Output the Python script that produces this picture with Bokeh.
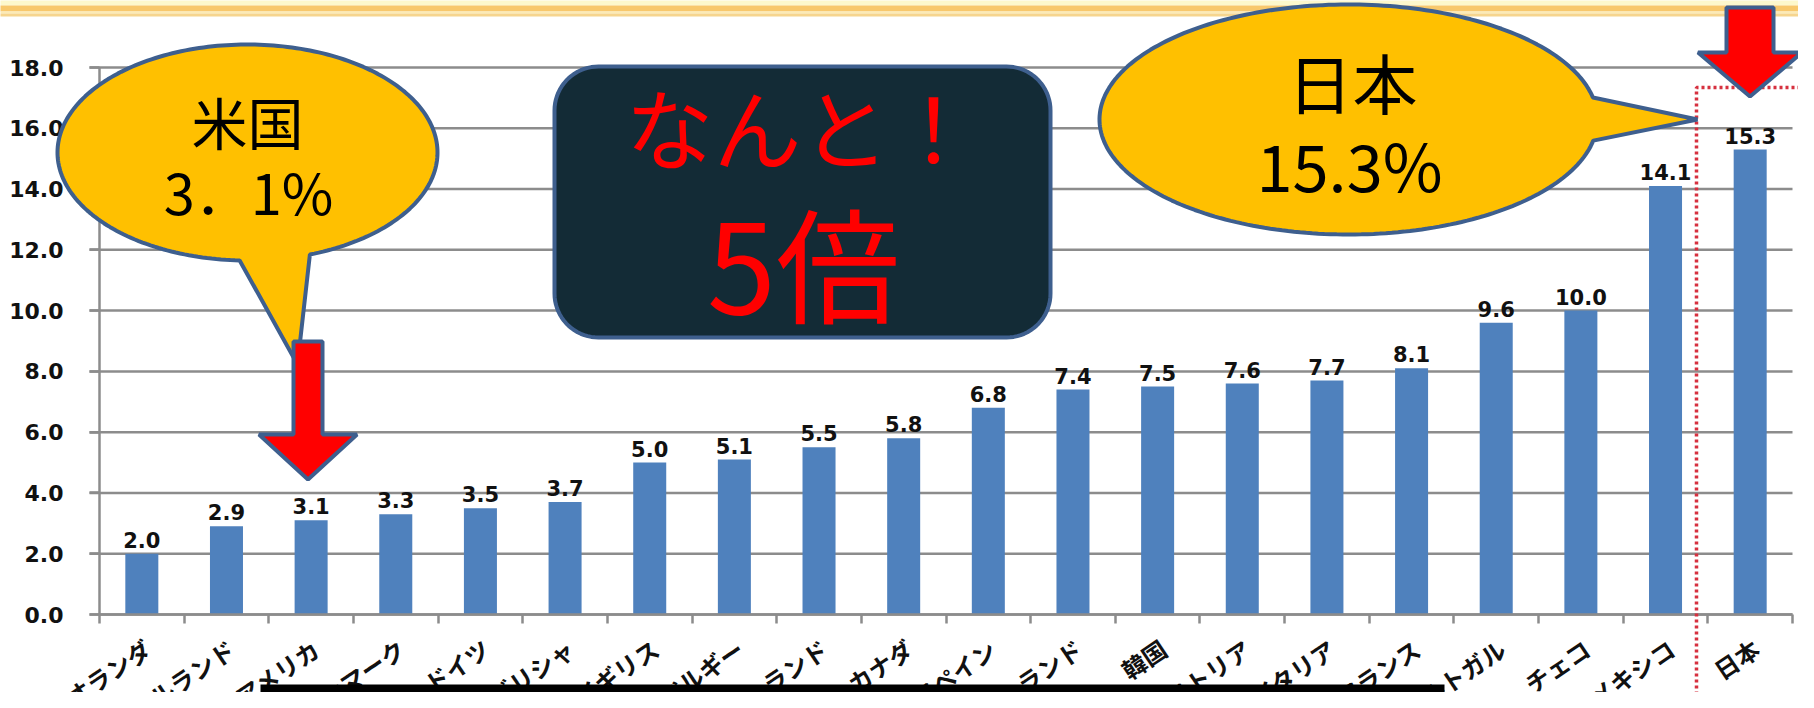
import math
import numpy as np
from bokeh.plotting import figure
from bokeh.models import (Range1d, LinearAxis, FixedTicker, PrintfTickFormatter,
                          CustomJSTickFormatter)
from bokeh.core.properties import value
from bokeh.embed import file_html
from bokeh.resources import INLINE

# ---------------- data ----------------
categories = ["オランダ", "アイルランド", "アメリカ", "デンマーク", "ドイツ", "ギリシャ",
              "イギリス", "ベルギー", "ニュージーランド", "カナダ", "スペイン", "ポーランド",
              "韓国", "オーストリア", "イタリア", "フランス", "ポルトガル", "チェコ",
              "メキシコ", "日本"]
values = [2.0, 2.9, 3.1, 3.3, 3.5, 3.7, 5.0, 5.1, 5.5, 5.8, 6.8, 7.4, 7.5, 7.6, 7.7,
          8.1, 9.6, 10.0, 14.1, 15.3]
y_ticks = [0, 2, 4, 6, 8, 10, 12, 14, 16, 18]
us_text = ["米国", "3．1%"]
jp_text = ["日本", "15.3%"]
box_text = ["なんと！", "5倍"]

# ---------------- geometry (page pixels of the reference) ----------------
W, H = 1798, 692
OFF = 8
AX_X0, AX_X1 = 107, 1800
AX_Y0, AX_YTOP = 622, 75
n = len(categories)
ppx = (AX_X1 - AX_X0) / n
ppy = (AX_Y0 - AX_YTOP) / y_ticks[-1]


def X(px):
    return (px - AX_X0) / ppx


def Y(py):
    return (AX_Y0 - py) / ppy


def XS(pts):
    return [X(a) for a, b in pts]


def YS(pts):
    return [Y(b) for a, b in pts]


p = figure(width=W, height=H, output_backend="svg", toolbar_location=None,
           x_range=Range1d(X(OFF), X(OFF + W)), y_range=Range1d(Y(OFF + H), Y(OFF)),
           x_axis_type=None, y_axis_type=None, min_border=0,
           outline_line_color=None, background_fill_color="white",
           border_fill_color="white")

GRAY = "#8C8C8C"
BLUE_EDGE = "#3E5F8E"

# top banner
bands = [(0, 13, "#FDF8CC"), (13, 19, "#F8C86C"), (19, 21, "#FCEBB5"), (21, 24, "#F6D58E")]
for t, b, c in bands:
    p.quad(left=X(0), right=X(1830), top=Y(t), bottom=Y(b), fill_color=c,
           line_color=None, level="underlay")

# grid lines
p.segment(x0=X(97), x1=n, y0=y_ticks, y1=y_ticks, line_color=GRAY, line_width=2.5,
          level="underlay")

# bars
xs = [i + 0.5 for i in range(n)]
p.vbar(x=xs, top=values, bottom=0, width=0.39, fill_color="#4F81BD", line_color=None)

# value labels
p.text(x=xs, y=[v + 14 / ppy for v in values], text=[f"{v:.1f}" for v in values],
       text_align="center", text_baseline="alphabetic",
       text_font=value("DejaVu Sans"), text_font_style="bold",
       text_font_size="21px", text_color="#111111")

# axes
yaxis = LinearAxis(fixed_location=0, bounds=(0, y_ticks[-1]),
                   ticker=FixedTicker(ticks=y_ticks),
                   formatter=PrintfTickFormatter(format="%.1f"),
                   axis_line_color=GRAY, axis_line_width=2.5,
                   major_tick_line_color=GRAY, major_tick_line_width=2.5,
                   major_tick_out=10, major_tick_in=0,
                   minor_tick_line_color=None, major_label_standoff=26,
                   major_label_text_font="DejaVu Sans",
                   major_label_text_font_style="bold",
                   major_label_text_font_size="22px",
                   major_label_text_color="#111111")
p.add_layout(yaxis, "left")

# category axis: labels near bar centres, tick marks (minor) at category boundaries
label_pos = [x + 6 / ppx for x in xs]
xaxis = LinearAxis(fixed_location=0, bounds=(0, n),
                   ticker=FixedTicker(ticks=label_pos, minor_ticks=list(range(n + 1))),
                   formatter=CustomJSTickFormatter(args=dict(cats=categories),
                                                   code="return cats[Math.floor(tick)] || ''"),
                   axis_line_color=GRAY, axis_line_width=2.5,
                   major_tick_line_color=None, major_tick_out=0, major_tick_in=0,
                   minor_tick_line_color=GRAY, minor_tick_line_width=2.5,
                   minor_tick_out=9, minor_tick_in=0,
                   major_label_orientation=math.radians(34),
                   major_label_standoff=22,
                   major_label_text_font="Noto Sans CJK JP",
                   major_label_text_font_style="bold",
                   major_label_text_font_size="24px",
                   major_label_text_color="#111111")
p.add_layout(xaxis, "below")

# dotted red frame around Japan
p.line(x=[X(1704), X(1704), X(1830)], y=[Y(720), Y(95), Y(95)],
       line_color="#D6303F", line_width=3.5, line_dash="3 3", level="annotation")


def callout(cx, cy, rx, ry, b1, tip, b2, npts=240):
    a1 = math.atan2((b1[1] - cy) / ry, (b1[0] - cx) / rx)
    a2 = math.atan2((b2[1] - cy) / ry, (b2[0] - cx) / rx)
    if a2 < a1:
        a2 += 2 * math.pi
    pts = [(cx + rx * math.cos(a), cy + ry * math.sin(a))
           for a in np.linspace(a1, a2, npts)]
    pts.append(tip)
    return pts


def arrow(cx, top, base, tip, shaft_hw, head_hw):
    return [(cx - shaft_hw, top), (cx + shaft_hw, top), (cx + shaft_hw, base),
            (cx + head_hw, base), (cx, tip), (cx - head_hw, base), (cx - shaft_hw, base)]


def rounded_rect(l, t, r, b, rad, k=20):
    pts = []
    for (ccx, ccy, a0) in [(r - rad, t + rad, -90), (r - rad, b - rad, 0),
                           (l + rad, b - rad, 90), (l + rad, t + rad, 180)]:
        for a in np.linspace(a0, a0 + 90, k):
            pts.append((ccx + rad * math.cos(math.radians(a)),
                        ccy + rad * math.sin(math.radians(a))))
    return pts


# US callout
us = callout(255, 160, 190, 108, (247, 270), (305, 372), (318, 263))
p.patch(XS(us), YS(us), fill_color="#FFC000", line_color=BLUE_EDGE, line_width=4,
        level="annotation")
usa = arrow(315.5, 349, 442, 487, 14.5, 49)
p.patch(XS(usa), YS(usa), fill_color="#FF0000", line_color=BLUE_EDGE, line_width=4,
        level="annotation")

# Japan callout
jp = callout(1356, 127, 249, 115, (1599, 148), (1705, 127), (1600, 105))
p.patch(XS(jp), YS(jp), fill_color="#FFC000", line_color=BLUE_EDGE, line_width=4,
        level="annotation")
jpa = arrow(1757.5, 15, 60, 104, 23.5, 52)
p.patch(XS(jpa), YS(jpa), fill_color="#FF0000", line_color=BLUE_EDGE, line_width=4,
        level="annotation")

# dark box
bx = rounded_rect(562, 74, 1058, 345, 44)
p.patch(XS(bx), YS(bx), fill_color="#132B36", line_color=BLUE_EDGE, line_width=4,
        level="annotation")

FONT = value("Noto Sans CJK JP")
p.text(x=[X(255), X(256)], y=[Y(128), Y(198)], text=us_text, text_align="center",
       text_baseline="middle", text_font=FONT, text_font_size="56px",
       text_color="black", level="overlay")
p.text(x=[X(1360), X(1357)], y=[Y(88), Y(171)], text=jp_text, text_align="center",
       text_baseline="middle", text_font=FONT, text_font_size="65px",
       text_color="black", level="overlay")
p.text(x=[X(809)], y=[Y(132)], text=[box_text[0]], text_align="center",
       text_baseline="middle", text_font=FONT, text_font_size="88px",
       text_color="#FF0000", level="overlay")
p.text(x=[X(811)], y=[Y(267)], text=[box_text[1]], text_align="center",
       text_baseline="middle", text_font=FONT, text_font_size="124px",
       text_color="#FF0000", level="overlay")

# black bar at the bottom
p.quad(left=X(268), right=X(1452), top=Y(692), bottom=Y(730), fill_color="black",
       line_color=None, level="overlay")

open("out.html", "w").write(file_html(p, INLINE))
